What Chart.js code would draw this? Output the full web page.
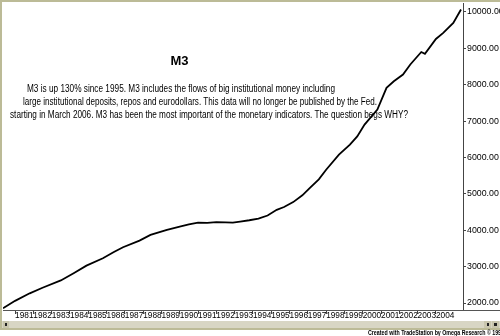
<!DOCTYPE html>
<html>
<head>
<meta charset="utf-8">
<script src="https://cdn.jsdelivr.net/npm/chart.js@4.4.1/dist/chart.umd.min.js"></script>
<style>
  html, body { margin: 0; padding: 0; background: #fff; }
  #wrap { width: 500px; height: 336px; position: relative; }
</style>
</head>
<body>
<div id="wrap"><canvas id="m3Chart" width="500" height="336"></canvas></div>
<script>
// M3 money stock (decimal year, billions)
const years = [1980.34, 1981.0, 1981.8, 1982.5, 1983.5, 1984.2, 1984.9, 1985.8, 1986.4, 1986.9,
  1987.8, 1988.4, 1989.3, 1990.0, 1990.5, 1991.0, 1991.5, 1992.0, 1992.5, 1992.9,
  1993.3, 1993.8, 1994.3, 1994.8, 1995.3, 1995.7, 1996.2, 1996.7, 1997.1, 1997.6,
  1998.0, 1998.7, 1999.3, 1999.7, 2000.1, 2000.8, 2001.3, 2001.7, 2002.2, 2002.6,
  2003.2, 2003.4, 2004.0, 2004.4, 2004.95, 2005.37];
const m3 = [1854, 2060, 2267, 2420, 2620, 2820, 3028, 3231, 3400, 3534,
  3716, 3873, 4011, 4102, 4160, 4212, 4205, 4223, 4215, 4212,
  4240, 4275, 4320, 4405, 4562, 4640, 4774, 4960, 5160, 5400,
  5664, 6077, 6353, 6581, 6904, 7317, 7915, 8096, 8281, 8556,
  8900, 8850, 9259, 9425, 9700, 10070];

const yearTicks = [1981, 1982, 1983, 1984, 1985, 1986, 1987, 1988, 1989, 1990, 1991, 1992,
  1993, 1994, 1995, 1996, 1997, 1998, 1999, 2000, 2001, 2002, 2003, 2004];
const valueTicks = [2000, 3000, 4000, 5000, 6000, 7000, 8000, 9000, 10000];

const title = 'M3';
const noteLines = [
  'M3 is up 130% since 1995. M3 includes the flows of big institutional money including',
  'large institutional deposits, repos and eurodollars. This data will no longer be published by the Fed.',
  'starting in March 2006. M3 has been the most important of the monetary indicators. The question begs WHY?'
];
const footer = 'Created with TradeStation by Omega Research \u00A9 1997';

const khaki = '#bcbb97';
const font = '"Liberation Sans", Arial, sans-serif';

// frame, scrollbar, title and notes
const decor = {
  id: 'decor',
  beforeDraw(chart) {
    const c = chart.ctx;
    c.save();
    c.fillStyle = '#fff';
    c.fillRect(0, 0, chart.width, chart.height);
    c.restore();
  },
  afterDraw(chart) {
    const c = chart.ctx;
    const a = chart.chartArea;
    c.save();
    // border top/left
    c.fillStyle = khaki;
    c.fillRect(0, 0, 500, 2);
    c.fillRect(0, 0, 2, 330);
    // bottom line across the whole width
    c.fillStyle = '#555';
    c.fillRect(a.left, a.bottom, 500 - a.left, 1);
    // scrollbar
    c.fillStyle = '#d8d6c4';
    c.fillRect(2, 321, 498, 8);
    c.fillStyle = khaki;
    c.fillRect(2, 328, 498, 2);
    c.fillStyle = '#c9c6ae';
    c.fillRect(3, 321, 6, 7);
    c.fillRect(484, 321, 7, 7);
    c.fillRect(492, 321, 7, 7);
    c.fillStyle = '#222';
    c.fillRect(5, 323, 2, 3);
    c.fillRect(487, 323, 2, 3);
    c.fillRect(494, 323, 3, 3);
    // title
    c.fillStyle = '#000';
    c.font = 'bold 13px ' + font;
    c.textAlign = 'center';
    c.textBaseline = 'alphabetic';
    c.fillText(title, 179.5, 65);
    // notes
    c.font = '10px ' + font;
    c.textAlign = 'left';
    c.fillText(noteLines[0], 27, 92, 308);
    c.fillText(noteLines[1], 23, 104.5, 354);
    c.fillText(noteLines[2], 10, 118, 398);
    // footer
    c.font = 'bold 7px ' + font;
    c.fillText(footer, 368, 335, 136);
    c.restore();
  }
};

const ctx = document.getElementById('m3Chart');

const m3Chart = new Chart(ctx, {
  type: 'line',
  data: {
    datasets: [{
      data: years.map((y, i) => ({ x: y, y: m3[i] })),
      borderColor: '#000',
      borderWidth: 1.8,
      pointRadius: 0,
      tension: 0,
      fill: false
    }]
  },
  options: {
    responsive: false,
    animation: false,
    plugins: { legend: { display: false }, tooltip: { enabled: false } },
    layout: { padding: { left: 3, top: 3, right: 0, bottom: 16 } },
    scales: {
      x: {
        type: 'linear',
        min: 1980.34,
        max: 2005.48,
        afterBuildTicks: s => { s.ticks = yearTicks.map(v => ({ value: v })); },
        afterFit: s => { s.height = 10; s.paddingLeft = 0; s.paddingRight = 0; },
        grid: { drawOnChartArea: false, tickLength: 4, color: '#444' },
        border: { display: false },
        ticks: {
          align: 'start',
          padding: -3,
          maxRotation: 0,
          autoSkip: false,
          color: '#000',
          font: { family: font, size: 8.3 },
          callback: v => String(v)
        }
      },
      y: {
        position: 'right',
        min: 1808,
        max: 10247,
        afterBuildTicks: s => { s.ticks = valueTicks.map(v => ({ value: v })); },
        afterFit: s => { s.width = 37; s.paddingTop = 0; s.paddingBottom = 0; },
        grid: { drawOnChartArea: false, tickLength: 3, color: '#444' },
        border: { display: true, color: '#444', width: 1 },
        ticks: {
          padding: 1,
          color: '#000',
          font: { family: font, size: 8.8 },
          callback: v => Number(v).toFixed(2)
        }
      }
    }
  },
  plugins: [decor]
});
</script>
</body>
</html>
